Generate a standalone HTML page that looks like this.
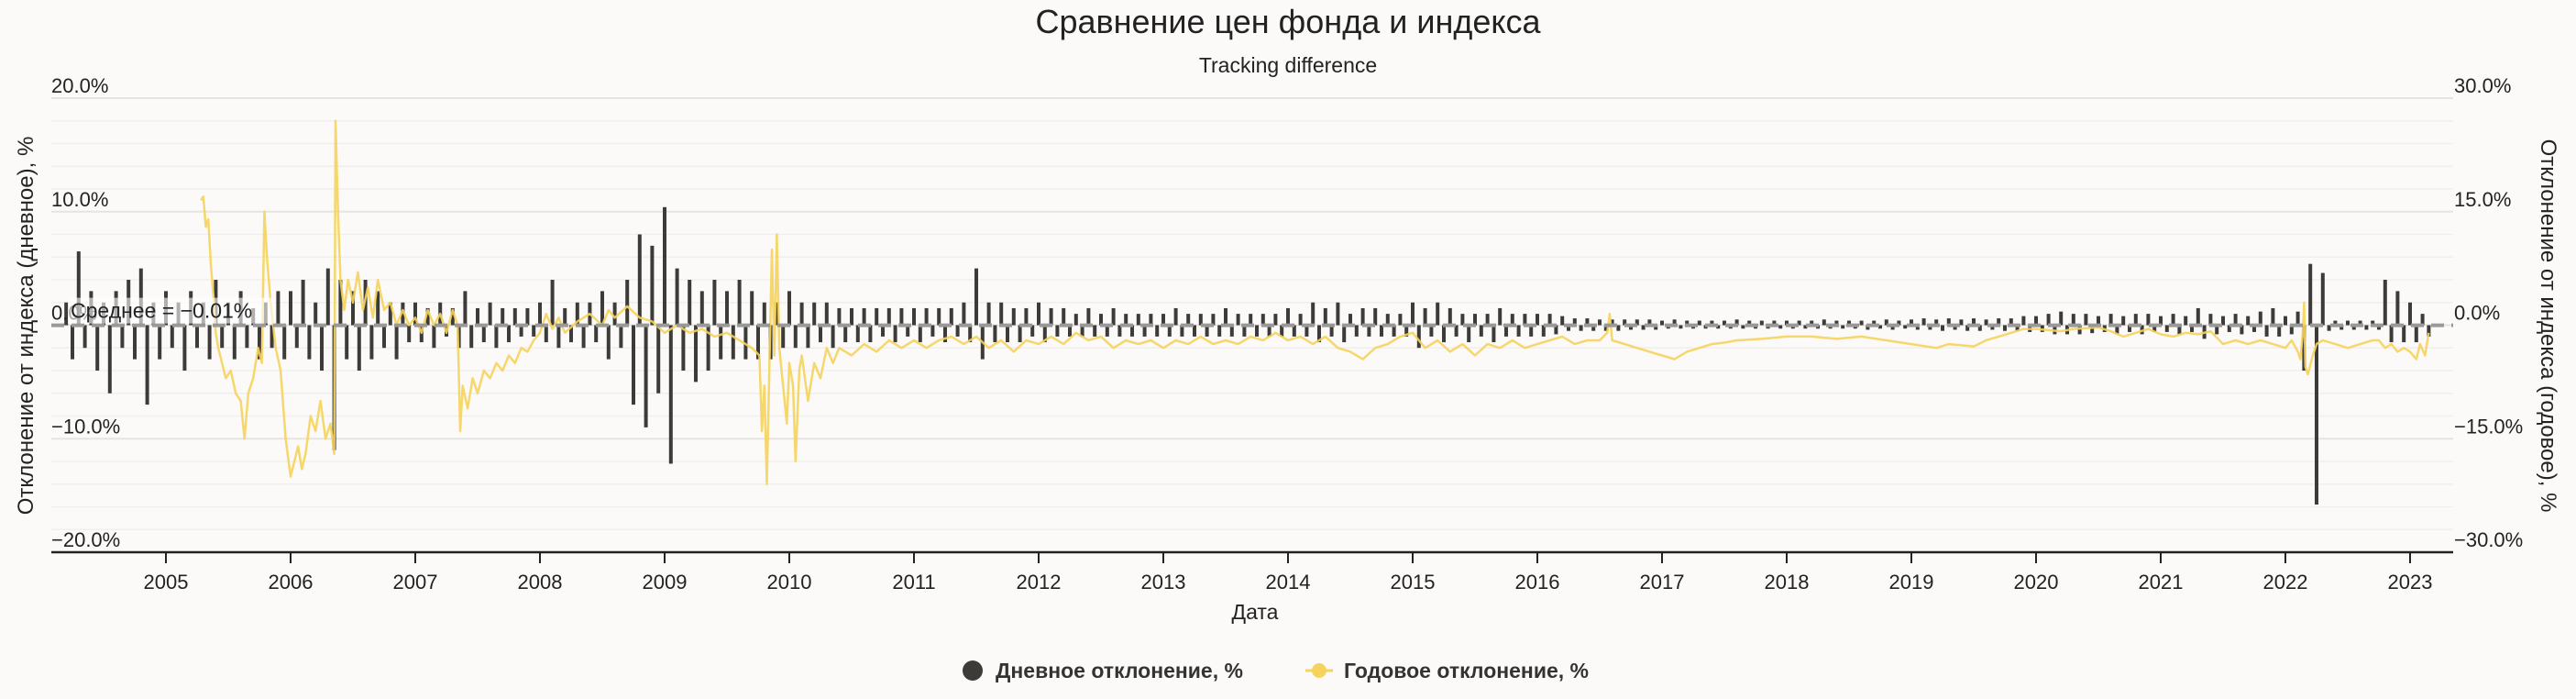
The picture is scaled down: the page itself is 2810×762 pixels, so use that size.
<!DOCTYPE html>
<html><head><meta charset="utf-8">
<style>
html,body{margin:0;padding:0;background:#fcfaf9;}
svg{display:block;font-family:"Liberation Sans","DejaVu Sans",sans-serif;}
</style></head>
<body>
<svg id="chart" width="2810" height="762" viewBox="0 0 2810 762" xmlns="http://www.w3.org/2000/svg">
<rect width="2810" height="762" fill="#fcfaf9"/>
<text x="1405" y="36" text-anchor="middle" font-size="36" fill="#222">Сравнение цен фонда и индекса</text>
<text x="1405" y="79" text-anchor="middle" font-size="23" fill="#222">Tracking difference</text>
<g id="grid"></g>
<g id="daily"></g>
<g id="annual"></g>
<g id="axes"></g>
<text transform="translate(36,355) rotate(-90)" text-anchor="middle" font-size="24" fill="#222">Отклонение от индекса (дневное), %</text>
<text transform="translate(2772,355) rotate(90)" text-anchor="middle" font-size="24" fill="#222">Отклонение от индекса (годовое), %</text>
<text x="1369" y="675" text-anchor="middle" font-size="23" fill="#222">Дата</text>
<g>
  <g>
    <circle cx="1061" cy="731" r="11" fill="#3d3b38"/>
    <text x="1086" y="739" font-size="23" font-weight="bold" fill="#333">Дневное отклонение, %</text>
  </g>
  <g>
    <line x1="1424" y1="731" x2="1454" y2="731" stroke="#f5d35c" stroke-width="3"/>
    <circle cx="1439" cy="731" r="8" fill="#f5d35c"/>
    <text x="1466" y="739" font-size="23" font-weight="bold" fill="#333">Годовое отклонение, %</text>
  </g>
</g>
</svg>
<script>
const NS="http://www.w3.org/2000/svg";
// ---- data ----
const yearTicks=[2005,2006,2007,2008,2009,2010,2011,2012,2013,2014,2015,2016,2017,2018,2019,2020,2021,2022,2023];
const leftTicks=[20,10,0,-10,-20];
const rightTicks=[30,15,0,-15,-30];
const meanDaily=-0.01;
const dailyStart=2004.2;
const dailyStep=0.05;
const dailyValues=[
2,-3,6.5,-2,3,-4,2,-6,3,-2,4,-3,5,-7,2,-3,
3,-2,2,-4,3,-2,2,-3,4,-2,2,-3,3,-2,1.5,-3,2,-2,3,-3,
3,-2,4,-3,2,-4,5,-11,4,-3,3,-4,4,-3,3,-2,2,-3,2,-1.5,
2,-1.5,1.5,-2,2,-1,1.5,-2,3,-2,1.5,-1.5,2,-2,1.5,-1.5,1.5,-1,1.5,-1,
2,-1.5,4,-2,1.5,-1.5,2,-2,2,-1.5,3,-3,2,-2,4,-7,8,-9,7,-6,
10.4,-12.2,5,-4,4,-5,3,-4,4,-3,3,-3,4,-3,3,-3,2,-3,2,-2,
3,-2,2,-2,2,-1.5,2,-2,1.5,-1.5,1.5,-1.5,1.5,-1.5,1.5,-1,1.5,-1.5,1.5,-1,
1.5,-1.5,1.5,-1,1.5,-1.5,1.5,-1,2,-1.5,5,-3,2,-1.5,2,-1.5,1.5,-1.5,1.5,-1,
2,-1.5,1.5,-1,1.5,-1,1,-1,1.5,-1,1,-1,1.5,-1,1,-1,1,-1,1,-1,
1,-1,1.5,-1,1,-1,1,-1,1,-1,1.5,-1,1,-1,1,-1,1,-1,1,-1,
1.5,-1,1,-1,2,-1.5,1.5,-1,2,-1.5,1,-1,1.5,-1,1.5,-1,1,-1,1,-1,
2,-2,1.5,-1,2,-1.5,1.5,-1,1,-1.5,1,-1,1,-1.5,1.5,-1,1,-1,1,-1,
1,-1,1,-0.8,0.8,-0.5,0.6,-0.5,0.6,-0.5,0.5,-0.5,0.5,-0.5,0.5,-0.4,0.5,-0.4,0.5,-0.4,
0.4,-0.3,0.5,-0.3,0.4,-0.3,0.4,-0.3,0.4,-0.3,0.4,-0.3,0.5,-0.3,0.4,-0.3,0.4,-0.3,0.4,-0.3,
0.4,-0.3,0.4,-0.3,0.4,-0.3,0.5,-0.3,0.4,-0.3,0.4,-0.3,0.4,-0.4,0.4,-0.3,0.5,-0.4,0.4,-0.3,
0.5,-0.4,0.6,-0.4,0.5,-0.5,0.6,-0.4,0.5,-0.5,0.6,-0.5,0.5,-0.4,0.6,-0.5,0.6,-0.5,0.8,-0.6,
0.8,-0.6,1,-0.8,1.2,-0.8,1,-0.8,1,-0.7,0.8,-0.6,1,-0.8,0.8,-0.6,1,-0.8,1,-0.6,
0.8,-0.6,1,-0.8,0.8,-0.6,1.5,-1.2,1,-0.8,0.8,-0.6,1,-0.8,0.8,-0.6,1.2,-1,1.5,-1,
0.8,-0.8,1.2,-4,5.4,-15.8,4.6,-0.5,0.4,-0.4,0.4,-0.4,0.4,-0.4,0.4,-0.4,4,-1.5,3,-1.5,
2,-1.5,1,-1
];
const annualDates=[2005.28,2005.30,2005.32,2005.34,2005.36,2005.38,2005.40,2005.42,2005.45,2005.48,2005.52,2005.56,2005.60,2005.63,2005.66,2005.70,2005.74,2005.77,2005.79,2005.81,2005.84,2005.88,2005.92,2005.96,2006.0,2006.03,2006.06,2006.09,2006.12,2006.16,2006.2,2006.24,2006.28,2006.32,2006.35,2006.36,2006.38,2006.40,2006.43,2006.46,2006.5,2006.54,2006.58,2006.62,2006.66,2006.7,2006.75,2006.8,2006.85,2006.9,2006.95,2007.0,2007.05,2007.1,2007.15,2007.2,2007.25,2007.3,2007.34,2007.36,2007.38,2007.42,2007.46,2007.5,2007.55,2007.6,2007.65,2007.7,2007.75,2007.8,2007.85,2007.9,2007.95,2008.0,2008.05,2008.1,2008.15,2008.2,2008.3,2008.4,2008.5,2008.55,2008.6,2008.7,2008.8,2008.9,2009.0,2009.1,2009.2,2009.3,2009.4,2009.5,2009.6,2009.7,2009.76,2009.78,2009.80,2009.82,2009.84,2009.86,2009.88,2009.90,2009.92,2009.95,2009.98,2010.0,2010.03,2010.05,2010.08,2010.1,2010.15,2010.2,2010.25,2010.3,2010.35,2010.4,2010.5,2010.6,2010.7,2010.8,2010.9,2011.0,2011.1,2011.2,2011.3,2011.4,2011.5,2011.6,2011.7,2011.8,2011.9,2012.0,2012.1,2012.2,2012.3,2012.4,2012.5,2012.6,2012.7,2012.8,2012.9,2013.0,2013.1,2013.2,2013.3,2013.4,2013.5,2013.6,2013.7,2013.8,2013.9,2014.0,2014.1,2014.2,2014.3,2014.4,2014.5,2014.6,2014.7,2014.8,2014.9,2015.0,2015.1,2015.2,2015.3,2015.4,2015.5,2015.6,2015.7,2015.8,2015.9,2016.0,2016.1,2016.2,2016.3,2016.4,2016.5,2016.56,2016.58,2016.6,2016.7,2016.8,2016.9,2017.0,2017.1,2017.2,2017.3,2017.4,2017.5,2017.6,2017.8,2018.0,2018.2,2018.4,2018.6,2018.8,2019.0,2019.2,2019.3,2019.5,2019.6,2019.7,2019.8,2019.9,2020.0,2020.2,2020.3,2020.5,2020.6,2020.7,2020.8,2020.9,2021.0,2021.1,2021.2,2021.3,2021.4,2021.5,2021.6,2021.7,2021.8,2021.9,2022.0,2022.05,2022.1,2022.12,2022.14,2022.15,2022.16,2022.18,2022.22,2022.25,2022.3,2022.4,2022.5,2022.6,2022.7,2022.75,2022.8,2022.85,2022.9,2022.95,2023.0,2023.05,2023.08,2023.12,2023.15];
const annualValues=[16.5,17,13,14,8,4,-1,-3,-5,-7,-6,-9,-10,-15,-9,-7,-3,-5,15,9,3,-3,-6,-15,-20,-18,-16,-19,-17,-12,-14,-10,-15,-13,-17,27,15,6,2,6,3,7,2,5,1,6,2,3,0,2,0,1,-1,2,0,1.5,-1,2,0,-14,-8,-11,-7,-9,-6,-7,-5,-6,-4,-5,-3,-3.5,-2,-1,1.5,-0.5,1,-1,0.5,1.5,0,2,1,2.5,1,0.5,-1,0,-1,-0.5,-1.5,-1,-2,-3,-4,-14,-8,-21,-6,10,-4,12,-3,-8,-13,-5,-8,-18,-6,-4,-10,-5,-7,-3,-5,-3,-4,-2.5,-3.5,-2,-3,-2,-3,-2,-1.5,-2.5,-1.5,-3,-2,-3.5,-2,-2.5,-1.5,-2.5,-1,-2,-1.5,-3,-2,-2.5,-2,-3,-2,-2.5,-1.5,-2.5,-2,-2.5,-1.5,-2,-1,-2,-1.5,-2.5,-1.5,-3,-3.5,-4.5,-3,-2.5,-1.5,-1,-3,-2,-3.5,-2.5,-4,-2.5,-3,-2,-3,-2.5,-2,-1.5,-2.5,-2,-2,-1,1.5,-2,-2.5,-3,-3.5,-4,-4.5,-3.5,-3,-2.5,-2.3,-2,-1.8,-1.5,-1.5,-1.8,-1.5,-2,-2.5,-3,-2.5,-2.8,-2,-1.5,-1,-0.5,-0.5,-0.8,-0.5,-0.3,-0.8,-1.5,-1,-0.5,-1.2,-1.5,-1,-1.2,-0.8,-2.5,-2,-2.5,-2,-2.5,-3,-2,-3.5,-4.5,-1,3,-5.5,-6.5,-4,-2.5,-2,-2.5,-3,-2.5,-2,-2,-3,-2.5,-3.5,-3,-3.5,-4.5,-2.5,-4,-1];

// ---- scales ----
const PL=56, PR=2676, PT=107, PB=602;
function xOf(t){return 181+(t-2005)*136.0;}
function yLeft(v){return PT+(20-v)/40*(PB-PT);}
function yRight(v){return PT+(30-v)/60*(PB-PT);}

const grid=document.getElementById('grid');
for(let v=20; v>=-20; v-=2){
  const l=document.createElementNS(NS,'line');
  
  
  l.setAttribute('x1',PL);l.setAttribute('x2',PR);
  l.setAttribute('y1',yLeft(v));l.setAttribute('y2',yLeft(v));
  l.setAttribute('stroke', v%10===0?'#e6e4e1':'#f0efed');
  l.setAttribute('stroke-width', v%10===0?2:1.5);
  grid.appendChild(l);
}
const axes=document.getElementById('axes');
leftTicks.forEach(v=>{
  const t=document.createElementNS(NS,'text');
  
  
  t.setAttribute('x',PL);t.setAttribute('y',yLeft(v)-6);
  t.setAttribute('font-size','22');t.setAttribute('fill','#222');
  t.textContent=(v<0?'\u2212'+(-v).toFixed(1):v.toFixed(1))+'%';
  axes.appendChild(t);
});
rightTicks.forEach(v=>{
  const t=document.createElementNS(NS,'text');
  
  
  t.setAttribute('x',PR+1);t.setAttribute('y',yRight(v)-6);
  t.setAttribute('font-size','22');t.setAttribute('fill','#222');
  t.textContent=(v<0?'\u2212'+(-v).toFixed(1):v.toFixed(1))+'%';
  axes.appendChild(t);
});
const base=document.createElementNS(NS,'line');


base.setAttribute('x1',PL);base.setAttribute('x2',PR);base.setAttribute('y1',PB);base.setAttribute('y2',PB);
base.setAttribute('stroke','#222');base.setAttribute('stroke-width','2.5');
axes.appendChild(base);
yearTicks.forEach(y=>{
  const l=document.createElementNS(NS,'line');
  
  
  l.setAttribute('x1',xOf(y));l.setAttribute('x2',xOf(y));l.setAttribute('y1',PB);l.setAttribute('y2',PB+12);
  l.setAttribute('stroke','#222');l.setAttribute('stroke-width','2');
  axes.appendChild(l);
  const t=document.createElementNS(NS,'text');
  
  
  t.setAttribute('x',xOf(y));t.setAttribute('y',PB+40);t.setAttribute('text-anchor','middle');
  t.setAttribute('font-size','22');t.setAttribute('fill','#222');
  t.textContent=y;
  axes.appendChild(t);
});

// daily bars
const daily=document.getElementById('daily');
const y0=yLeft(0);
dailyValues.forEach((v,i)=>{
  const t=dailyStart+i*dailyStep;
  const r=document.createElementNS(NS,'rect');
  
  
  const yv=yLeft(v);
  r.setAttribute('x',xOf(t)-2);r.setAttribute('width',4);
  r.setAttribute('y',Math.min(yv,y0));r.setAttribute('height',Math.max(1,Math.abs(yv-y0)));
  r.setAttribute('fill','#3d3b38');
  daily.appendChild(r);
});

// annual line
const annual=document.getElementById('annual');
let d='';
annualDates.forEach((t,i)=>{d+=(i?'L':'M')+xOf(t).toFixed(1)+','+yRight(annualValues[i]).toFixed(1);});
const p=document.createElementNS(NS,'path');


p.setAttribute('d',d);p.setAttribute('fill','none');p.setAttribute('stroke','#f5d35c');
p.setAttribute('stroke-width','2.5');p.setAttribute('stroke-opacity','0.9');p.setAttribute('stroke-linejoin','round');
annual.appendChild(p);

// mean line
const m=document.createElementNS(NS,'line');


m.setAttribute('x1',PL);m.setAttribute('x2',PR);m.setAttribute('y1',yLeft(meanDaily));m.setAttribute('y2',yLeft(meanDaily));
m.setAttribute('stroke','#999');m.setAttribute('stroke-width','4');m.setAttribute('stroke-dasharray','14 8');
axes.appendChild(m);
const mb=document.createElementNS(NS,'rect');


mb.setAttribute('x',74);mb.setAttribute('y',yLeft(meanDaily)-30);mb.setAttribute('width',226);mb.setAttribute('height',28);
mb.setAttribute('fill','#ffffff');mb.setAttribute('fill-opacity','0.6');
axes.appendChild(mb);
const mt=document.createElementNS(NS,'text');


mt.setAttribute('x',77);mt.setAttribute('y',yLeft(meanDaily)-8);mt.setAttribute('font-size','23');mt.setAttribute('fill','#222');
mt.textContent='Среднее = \u2212'+Math.abs(meanDaily).toFixed(2)+'%';
axes.appendChild(mt);
</script>
</body></html>
